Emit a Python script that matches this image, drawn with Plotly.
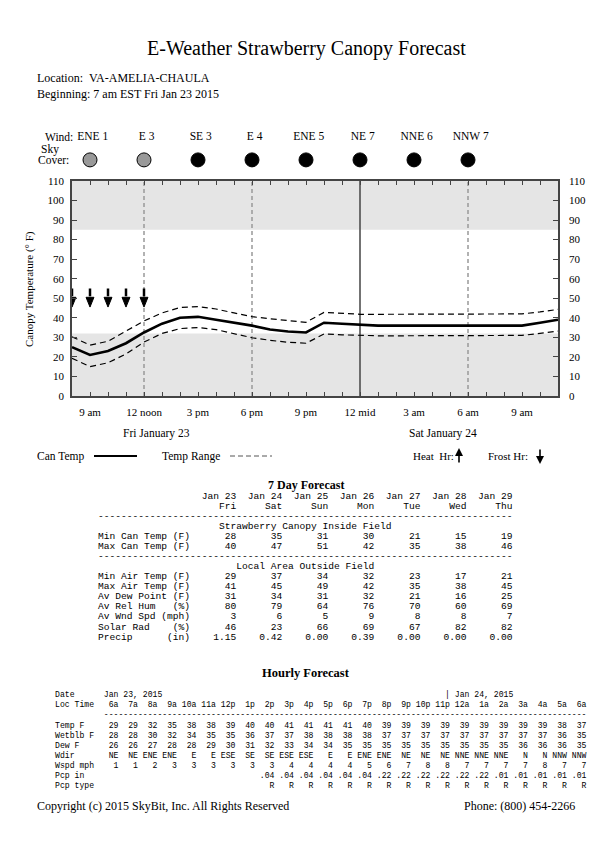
import plotly.graph_objects as go

W, H = 612, 864

# ---------------- data ----------------
hours = list(range(8, 36))  # hours from midnight Jan 23 (8 am .. 11 am next day)
can_temp = [25, 21, 23, 27, 32.5, 37, 40, 40.5, 39, 37.5, 36, 34, 33, 32.5,
            37.5, 37, 36.5, 36, 36, 36, 36, 36, 36, 36, 36, 36, 37.5, 39]
range_hi = [30.3, 26, 28, 33, 38.4, 42.5, 45.3, 45.7, 44.5, 42.5, 40.6, 39.5, 38.5, 37.7,
            42.8, 42.3, 41.8, 41.8, 41.8, 41.8, 41.8, 41.8, 41.8, 41.8, 41.8, 42, 43, 44.3]
range_lo = [19.3, 15, 17, 21.5, 27.6, 32, 34.5, 35, 34, 32, 29.8, 28.5, 27.5, 27,
            31.7, 31.3, 30.9, 30.8, 30.8, 30.8, 30.8, 30.8, 30.8, 30.8, 30.8, 31, 32, 33.2]
frost_hours = [8, 9, 10, 11, 12]
FROST_T = 32
HEAT_T = 85

tick_hours = [9, 12, 15, 18, 21, 24, 27, 30, 33]
tick_text = ["9 am", "12 noon", "3 pm", "6 pm", "9 pm", "12 mid", "3 am", "6 am", "9 am"]
dashed_hours = [12, 18, 30]
midnight_hours = [24]

sky_hours = [9, 12, 15, 18, 21, 24, 27, 30]
wind_labels = ["ENE 1", "E 3", "SE 3", "E 4", "ENE 5", "NE 7", "NNE 6", "NNW 7"]
sky_cover = ["partly", "partly", "overcast", "overcast", "overcast", "overcast", "overcast", "overcast"]

# 7 day forecast
days = ["Jan 23", "Jan 24", "Jan 25", "Jan 26", "Jan 27", "Jan 28", "Jan 29"]
weekdays = ["Fri", "Sat", "Sun", "Mon", "Tue", "Wed", "Thu"]
min_can = [28, 35, 31, 30, 21, 15, 19]
max_can = [40, 47, 51, 42, 35, 38, 46]
min_air = [29, 37, 34, 32, 23, 17, 21]
max_air = [41, 45, 49, 42, 35, 38, 45]
dew_pt = [31, 34, 31, 32, 21, 16, 25]
rel_hum = [80, 79, 64, 76, 70, 60, 69]
wnd_spd = [3, 6, 5, 9, 8, 8, 7]
solar = [46, 23, 66, 69, 67, 82, 82]
precip = [1.15, 0.42, 0.00, 0.39, 0.00, 0.00, 0.00]

# hourly forecast
loc_time = ["6a", "7a", "8a", "9a", "10a", "11a", "12p", "1p", "2p", "3p", "4p", "5p", "6p",
            "7p", "8p", "9p", "10p", "11p", "12a", "1a", "2a", "3a", "4a", "5a", "6a"]
h_temp = [29, 29, 32, 35, 38, 38, 39, 40, 40, 41, 41, 41, 41, 40, 39, 39, 39, 39, 39, 39, 39, 39, 39, 38, 37]
h_wetblb = [28, 28, 30, 32, 34, 35, 35, 36, 37, 37, 38, 38, 38, 38, 37, 37, 37, 37, 37, 37, 37, 37, 37, 36, 35]
h_dew = [26, 26, 27, 28, 28, 29, 30, 31, 32, 33, 34, 34, 35, 35, 35, 35, 35, 35, 35, 35, 35, 36, 36, 36, 35]
h_wdir = ["NE", "NE", "ENE", "ENE", "E", "E", "ESE", "SE", "SE", "ESE", "ESE", "E", "E", "ENE", "ENE",
          "NE", "NE", "NE", "NNE", "NNE", "NNE", "N", "N", "NNW", "NNW"]
h_wspd = [1, 1, 2, 3, 3, 3, 3, 3, 3, 4, 4, 4, 4, 5, 6, 7, 8, 8, 7, 7, 7, 7, 8, 7, 7]
h_pcp = ["", "", "", "", "", "", "", "", ".04", ".04", ".04", ".04", ".04", ".04", ".22", ".22",
         ".22", ".22", ".22", ".22", ".01", ".01", ".01", ".01", ".01"]
h_ptype = ["", "", "", "", "", "", "", ""] + ["R"] * 17

# ---------------- helpers ----------------
def px(x):
    return x / W

def py(y):
    return 1 - y / H

SERIF = "Liberation Serif"
MONO = "Liberation Mono"
NB = "\u00a0"

PLOT_L, PLOT_R, PLOT_T, PLOT_B = 72, 558, 181, 396

fig = go.Figure()

# temp range (dashed)
fig.add_trace(go.Scatter(x=hours, y=range_hi, mode="lines",
                         line=dict(color="black", width=1.2, dash="6px,4px"), hoverinfo="skip"))
fig.add_trace(go.Scatter(x=hours, y=range_lo, mode="lines",
                         line=dict(color="black", width=1.2, dash="6px,4px"), hoverinfo="skip"))
# canopy temperature
fig.add_trace(go.Scatter(x=hours, y=can_temp, mode="lines",
                         line=dict(color="black", width=2.6), hoverinfo="skip"))

# frost arrows (shaft + head), clipped to plot area
ARROW_TOP, ARROW_NECK, ARROW_TIP, HALF_W = 55, 50.5, 45.5, 0.22
sx, sy, hx, hy = [], [], [], []
for h in frost_hours:
    sx += [h, h, None]
    sy += [ARROW_TOP, ARROW_NECK + 0.5, None]
    hx += [h - HALF_W, h + HALF_W, h, h - HALF_W, None]
    hy += [ARROW_NECK, ARROW_NECK, ARROW_TIP, ARROW_NECK, None]
fig.add_trace(go.Scatter(x=sx, y=sy, mode="lines", line=dict(color="black", width=2.5), hoverinfo="skip"))
fig.add_trace(go.Scatter(x=hx, y=hy, mode="lines", fill="toself", fillcolor="black",
                         line=dict(color="black", width=1), hoverinfo="skip"))

# dummy trace for right axis
fig.add_trace(go.Scatter(x=[hours[0], hours[-1]], y=[0, 110], yaxis="y2", mode="markers",
                         marker=dict(opacity=0), hoverinfo="skip"))

# sky cover circles + wind
WIND_SHIFT = 0.15
fig.add_trace(go.Scatter(x=sky_hours, y=[0.2] * len(sky_hours), yaxis="y3", mode="markers",
                         marker=dict(size=14, symbol="circle",
                                     color=["#999999" if s == "partly" else "black" for s in sky_cover],
                                     line=dict(color="black", width=1)),
                         cliponaxis=False, hoverinfo="skip"))
fig.add_trace(go.Scatter(x=[h + WIND_SHIFT for h in sky_hours], y=[0.8] * len(sky_hours), yaxis="y3",
                         mode="text", text=wind_labels, textposition="middle center",
                         textfont=dict(family=SERIF, size=11.5, color="black"),
                         cliponaxis=False, hoverinfo="skip"))

shapes = []
# shaded bands
for y0, y1 in [(0, FROST_T), (HEAT_T, 110)]:
    shapes.append(dict(type="rect", xref="x", yref="y", x0=hours[0], x1=hours[-1], y0=y0, y1=y1,
                       fillcolor="#e5e5e5", line=dict(width=0), layer="below"))
for h in dashed_hours:
    shapes.append(dict(type="line", xref="x", yref="y", x0=h, x1=h, y0=0, y1=110,
                       line=dict(color="#999999", width=1.5, dash="4px,3px"), layer="below"))
for h in midnight_hours:
    shapes.append(dict(type="line", xref="x", yref="y", x0=h, x1=h, y0=0, y1=110,
                       line=dict(color="#444444", width=1.5), layer="below"))

# legend shapes
shapes.append(dict(type="line", xref="paper", yref="paper", x0=px(94), x1=px(137), y0=py(456), y1=py(456),
                   line=dict(color="black", width=2)))
shapes.append(dict(type="line", xref="paper", yref="paper", x0=px(230), x1=px(272), y0=py(456), y1=py(456),
                   line=dict(color="#555555", width=1, dash="5px,3px")))

ann = []
def text(x, y, s, size=12, family=SERIF, xanchor="left", bold=False, angle=0):
    if bold:
        s = "<b>" + s + "</b>"
    ann.append(dict(x=px(x), y=py(y), xref="paper", yref="paper", text=s, showarrow=False,
                    xanchor=xanchor, yanchor="middle", textangle=angle, borderpad=0,
                    font=dict(family=family, size=size, color="black")))

text(306, 48, "E-Weather Strawberry Canopy Forecast", size=20, xanchor="center")
text(36, 78, "Location:" + NB * 2 + "VA-AMELIA-CHAULA", size=12)
text(36, 94, "Beginning: 7 am EST Fri Jan 23 2015", size=12)
text(74, 137, "Wind:", size=11.5, xanchor="right")
text(50, 149, "Sky", size=11.5, xanchor="center")
text(53, 160, "Cover:", size=11.5, xanchor="center")
text(30, 289, "Canopy Temperature (° F)", size=11, xanchor="center", angle=-90)
text(156, 433, "Fri January 23", size=11.5, xanchor="center")
text(443, 433, "Sat January 24", size=11.5, xanchor="center")
text(36, 456, "Can Temp", size=11.5)
text(161, 456, "Temp Range", size=11.5)
text(412, 456, "Heat" + NB * 2 + "Hr:", size=11)
text(487, 456, "Frost Hr:", size=11)

text(36, 806, "Copyright (c) 2015 SkyBit, Inc. All Rights Reserved", size=12)
text(576, 806, "Phone: (800) 454-2266", size=12, xanchor="right")

# legend arrows
ann.append(dict(x=px(459), y=py(448), ax=0, ay=16, xref="paper", yref="paper", text="", showarrow=True,
                arrowhead=2, arrowsize=1, arrowwidth=1.6, arrowcolor="black"))
ann.append(dict(x=px(540), y=py(464), ax=0, ay=-16, xref="paper", yref="paper", text="", showarrow=True,
                arrowhead=2, arrowsize=1, arrowwidth=1.6, arrowcolor="black"))

# ---------------- 7 day table ----------------
def nb(s):
    return s.replace(" ", NB)

def row7(label, vals, fmt="{}"):
    return label + "".join(fmt.format(v).rjust(8) for v in vals)

LW = 16
lines7 = [
    " " * LW + "".join(d.rjust(8) for d in days),
    " " * LW + "".join(d.rjust(8) for d in weekdays),
    "-" * 72,
    "Strawberry Canopy Inside Field".center(72).rstrip(),
    row7("Min Can Temp (F)", min_can),
    row7("Max Can Temp (F)", max_can),
    "-" * 72,
    "Local Area Outside Field".center(72).rstrip(),
    row7("Min Air Temp (F)", min_air),
    row7("Max Air Temp (F)", max_air),
    row7("Av Dew Point (F)", dew_pt),
    row7("Av Rel Hum   (%)", rel_hum),
    row7("Av Wnd Spd (mph)", wnd_spd),
    row7("Solar Rad    (%)", solar),
    row7("Precip      (in)", precip, "{:.2f}"),
]
text(306, 485, "7 Day Forecast", size=12, xanchor="center", bold=True)
for i, ln in enumerate(lines7):
    text(97, 496 + i * 10.08, nb(ln), size=9.6, family=MONO)

# ---------------- hourly table ----------------
HL = 9
def rowh(label, vals):
    return label.ljust(HL) + "".join(str(v).rjust(4) for v in vals)

date_row = "Date".ljust(10) + "Jan 23, 2015"
pipe_at = HL + 4 * loc_time.index("12a") - 1
date_row = date_row.ljust(pipe_at) + "| Jan 24, 2015"
linesh = [
    (694, date_row),
    (704.5, rowh("Loc Time", loc_time)),
    (714.5, " " * (HL + 1) + "-" * (4 * len(loc_time) - 1)),
    (725, rowh("Temp F", h_temp)),
    (735, rowh("Wetblb F", h_wetblb)),
    (745, rowh("Dew F", h_dew)),
    (755, rowh("Wdir", h_wdir)),
    (765, rowh("Wspd mph", h_wspd)),
    (775, rowh("Pcp in", h_pcp)),
    (785, rowh("Pcp type", h_ptype)),
]
text(306, 673, "Hourly Forecast", size=12.5, xanchor="center", bold=True)
for y, ln in linesh:
    text(54, y, nb(ln), size=8.15, family=MONO)

tick_font = dict(family=SERIF, size=11, color="black")
fig.update_layout(
    width=W, height=H, autosize=False,
    margin=dict(l=0, r=0, t=0, b=0, pad=0, autoexpand=False),
    paper_bgcolor="white", plot_bgcolor="white",
    showlegend=False,
    shapes=shapes, annotations=ann,
    xaxis=dict(domain=[px(PLOT_L), px(PLOT_R)], range=[hours[0], hours[-1]],
               tickmode="array", tickvals=hours, automargin=False,
               ticktext=[tick_text[tick_hours.index(h)] if h in tick_hours else "" for h in hours],
               ticks="inside", ticklen=4, tickwidth=1, tickcolor="#444444",
               showline=True, linecolor="#444444", linewidth=1.5, mirror="ticks",
               showgrid=False, zeroline=False, tickfont=tick_font, ticklabelstandoff=5),
    yaxis=dict(domain=[py(PLOT_B), py(PLOT_T)], range=[0, 110], automargin=False,
               tickmode="array", tickvals=list(range(0, 111, 10)),
               ticks="inside", ticklen=5, tickwidth=1, tickcolor="#444444",
               showline=True, linecolor="#444444", linewidth=1.5, mirror="ticks",
               showgrid=False, zeroline=False, tickfont=tick_font, ticklabelstandoff=4),
    yaxis2=dict(overlaying="y", side="right", anchor="x", range=[0, 110], automargin=False,
                tickmode="array", tickvals=list(range(0, 111, 10)),
                ticks="", showline=False, showgrid=False, zeroline=False,
                tickfont=tick_font, ticklabelstandoff=10),
    yaxis3=dict(domain=[py(167.5), py(129.5)], anchor="x", range=[0, 1], visible=False,
                automargin=False),
)

fig.write_html("out.html", config={"displayModeBar": False},
               post_script="document.body.style.margin='0';document.body.style.overflow='hidden';")
